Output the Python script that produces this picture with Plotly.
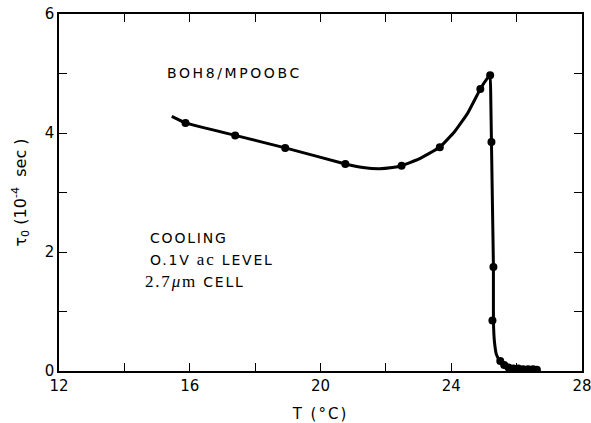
import plotly.graph_objects as go

# Measured relaxation time tau_0 (units of 1e-4 s) vs temperature on cooling
temp_c = [15.87, 17.39, 18.92, 20.76, 22.48, 23.65, 24.89, 25.19, 25.23, 25.29, 25.26,
          25.50, 25.62, 25.75, 25.90, 26.05, 26.20, 26.35, 26.50, 26.62]
tau0 = [4.17, 3.96, 3.75, 3.48, 3.45, 3.76, 4.74, 4.97, 3.85, 1.75, 0.85,
        0.17, 0.10, 0.06, 0.04, 0.04, 0.03, 0.03, 0.03, 0.02]

# Hand-drawn guide curve through the data
curve_t = [15.45, 15.87, 17.39, 18.92, 20.76, 21.3, 21.8, 22.2, 22.48, 23.0, 23.65,
           24.1, 24.5, 24.89, 25.08, 25.19, 25.21, 25.23, 25.26, 25.29, 25.29,
           25.32, 25.38, 25.48, 25.62, 25.80, 26.10, 26.62]
curve_tau = [4.28, 4.17, 3.96, 3.75, 3.48, 3.42, 3.40, 3.42, 3.45, 3.56, 3.76,
             4.02, 4.33, 4.74, 4.90, 4.97, 4.55, 3.85, 2.80, 1.75, 0.85,
             0.50, 0.28, 0.16, 0.09, 0.05, 0.035, 0.025]

x_major = [12, 16, 20, 24, 28]
y_major = [0, 2, 4, 6]

SANS = "DejaVu Sans"
SERIF = "Liberation Serif"

fig = go.Figure()
fig.add_trace(go.Scatter(
    x=curve_t, y=curve_tau, mode="lines",
    line=dict(color="black", width=3, shape="spline", smoothing=0.25),
    hoverinfo="skip", showlegend=False,
))
fig.add_trace(go.Scatter(
    x=temp_c, y=tau0, mode="markers",
    marker=dict(color="black", size=8),
    showlegend=False,
))

axis_common = dict(
    showline=True, linecolor="black", linewidth=1.6, mirror="ticks",
    ticks="inside", ticklen=8, tickwidth=1.4, tickcolor="black",
    showgrid=False, zeroline=False, automargin=False,
    ticklabeloverflow="allow",
    tickfont=dict(family=SANS, size=15, color="black"),
)

fig.update_xaxes(
    range=[12, 28], tickmode="array", tickvals=x_major,
    minor=dict(dtick=2, tick0=12, ticks="inside", ticklen=8, tickwidth=1.4,
               tickcolor="black", showgrid=False),
    title=dict(text='<span style="letter-spacing:2px">T (°C)</span>',
               font=dict(family=SANS, size=15, color="black"), standoff=18),
    **axis_common,
)
fig.update_yaxes(
    range=[0, 6], tickmode="array", tickvals=y_major,
    minor=dict(dtick=1, tick0=0, ticks="inside", ticklen=8, tickwidth=1.4,
               tickcolor="black", showgrid=False),
    title=dict(
        text='τ<sub>0</sub> (10<sup>-4</sup>  sec )',
        font=dict(family=SANS, size=16, color="black"), standoff=14),
    **axis_common,
)

notes = [
    (15.24, 5.01, "BOH8/MPOOBC", 2.6),
    (14.72, 2.24, "COOLING", 1.8),
    (14.72, 1.87, f'O.1V <span style="font-family:{SERIF};font-size:17px">ac</span> LEVEL', 1.8),
    (14.56, 1.50, f'<span style="font-family:{SERIF};font-size:17px">2.7<i>μ</i>m</span> CELL', 1.8),
]
for nx, ny, txt, spacing in notes:
    fig.add_annotation(
        x=nx, y=ny, xref="x", yref="y", xanchor="left", yanchor="middle",
        text=f'<span style="letter-spacing:{spacing}px">{txt}</span>',
        showarrow=False, font=dict(family=SANS, size=14, color="black"),
    )

fig.update_layout(
    width=591, height=423,
    margin=dict(l=59, r=9, t=14, b=52),
    paper_bgcolor="white", plot_bgcolor="white",
)

fig.write_html("out.html")
